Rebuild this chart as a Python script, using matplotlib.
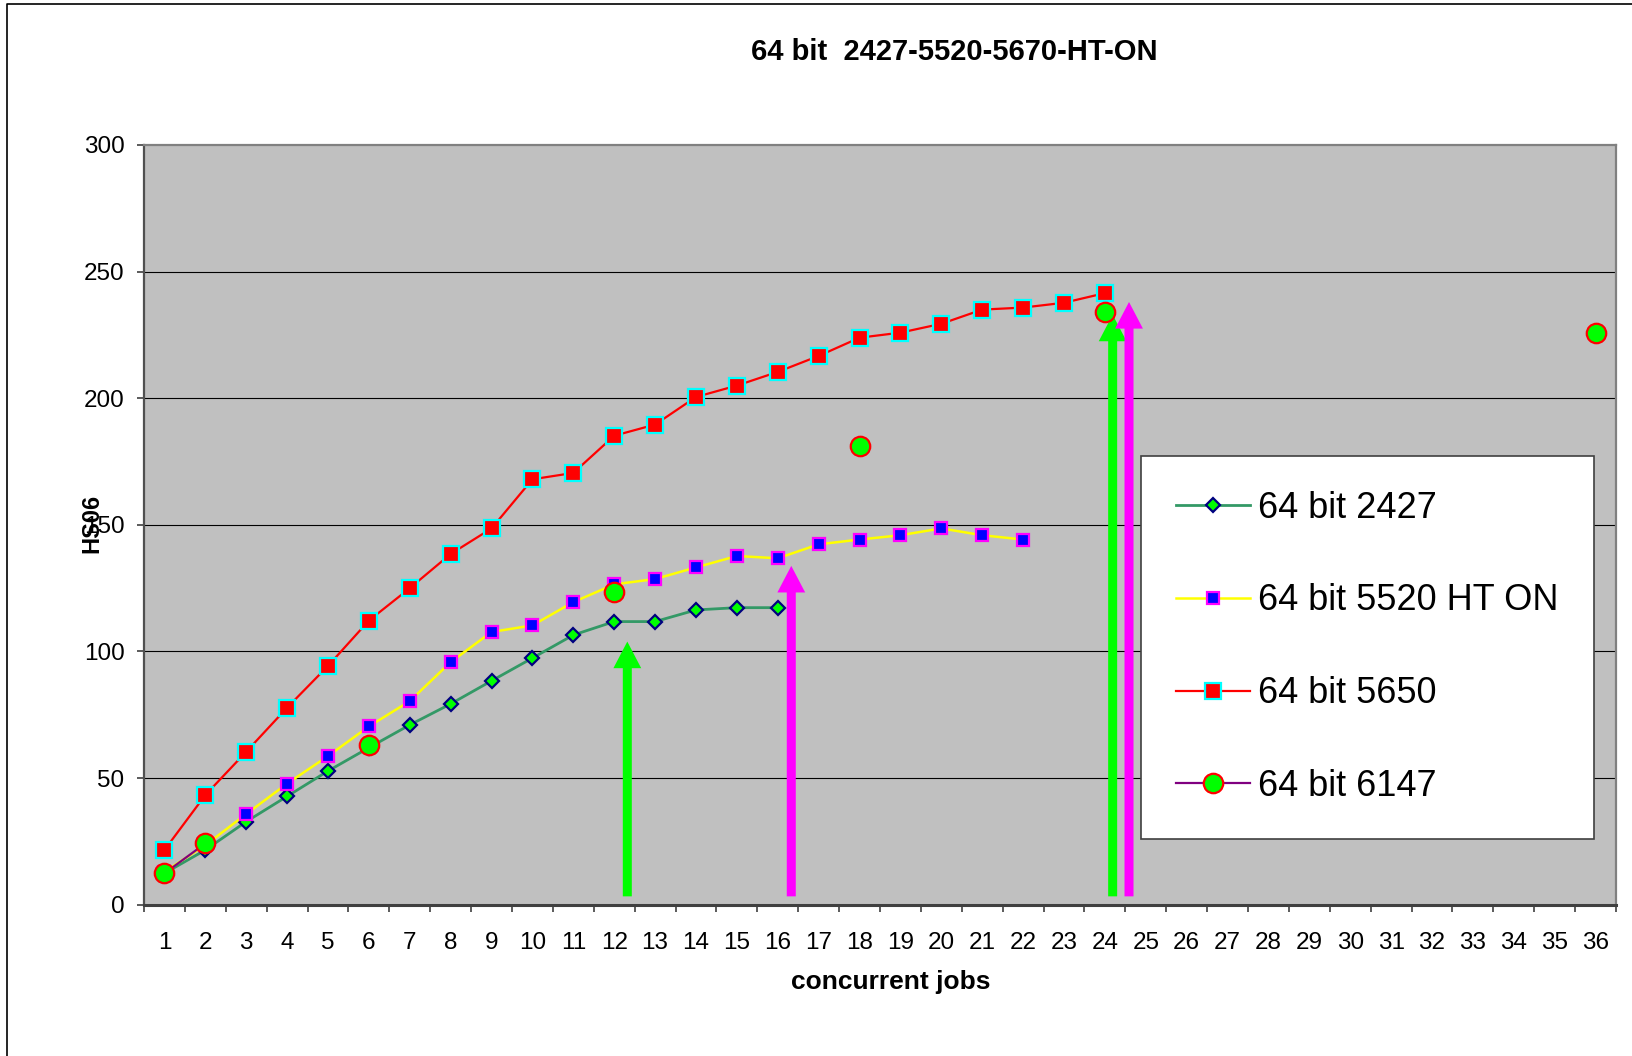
import numpy as np
import matplotlib
matplotlib.use("Agg")
import matplotlib.pyplot as plt
from matplotlib.lines import Line2D

plt.rcParams['font.family'] = ['Liberation Sans', 'DejaVu Sans']

# ---- data -------------------------------------------------------------
jobs = list(range(1, 37))
job_labels = [str(j) for j in jobs]

hs06_2427 = [12.4, 21.6, 32.8, 42.8, 52.8, 62.0, 71.0, 79.3, 88.4, 97.4,
             106.5, 111.8, 111.8, 116.4, 117.3, 117.3]
hs06_5520 = [13.0, 23.5, 35.8, 47.8, 58.7, 70.4, 80.4, 95.8, 107.7, 110.3,
             119.5, 126.5, 128.6, 133.2, 137.7, 136.8, 142.3, 144.2, 145.9,
             148.6, 145.9, 144.2]
hs06_5650 = [21.6, 43.3, 60.4, 77.8, 94.3, 112.2, 125.0, 138.5, 148.6, 168.0,
             170.5, 185.2, 189.6, 200.5, 205.0, 210.4, 216.7, 223.9, 225.9,
             229.4, 235.0, 235.8, 237.7, 241.5]
jobs_6147 = [1, 2, 6, 12, 18, 24, 36]
hs06_6147 = [12.4, 24.2, 63.1, 123.3, 181.3, 234.2, 225.9]

# saturation markers (job position, arrow tip value, colour)
arrow_jobs = [12.32, 16.33, 24.19, 24.59]
arrow_tips = [103.9, 133.8, 233.0, 238.0]
arrow_colors = ['#00FF00', '#FF00FF', '#00FF00', '#FF00FF']
arrow_start = 3.3

y_ticks = [0, 50, 100, 150, 200, 250, 300]

# 6147 was only measured at a few job counts; gaps break the line
series_6147 = np.full(len(jobs), np.nan)
for j, v in zip(jobs_6147, hs06_6147):
    series_6147[j - 1] = v

# ---- figure -----------------------------------------------------------
W, H = 1633, 1056
fig = plt.figure(figsize=(W / 100, H / 100), dpi=100)
fig.patch.set_facecolor('white')

ax_l, ax_r, ax_t, ax_b = 144, 1616, 145, 904.7
ax = fig.add_axes([ax_l / W, 1 - ax_b / H, (ax_r - ax_l) / W, (ax_b - ax_t) / H])
ax.set_facecolor('#C0C0C0')

# chart-area border (left and top edges)
fig.add_artist(Line2D([7 / W, 7 / W, 1.0], [0.0, 1 - 4 / H, 1 - 4 / H],
                      transform=fig.transFigure, color='black', lw=1.2))

for v in y_ticks[1:-1]:
    ax.axhline(v, color='black', lw=0.8, zorder=1)

for x, tip, c in zip(arrow_jobs, arrow_tips, arrow_colors):
    ax.arrow(x, arrow_start, 0, tip - arrow_start, width=0.22, head_width=0.68,
             head_length=10.5, length_includes_head=True, color=c, lw=0,
             zorder=2.5)

ax.plot(jobs[:len(hs06_2427)], hs06_2427, color='#339966', lw=2.0,
        marker='D', ms=6.8, mfc='#00FF00', mec='#000080', mew=1.6,
        label='64 bit 2427', zorder=3)
ax.plot(jobs[:len(hs06_5520)], hs06_5520, color='#FFFF00', lw=1.8,
        marker='s', ms=8.5, mfc='#0000FF', mec='#FF00FF', mew=1.6,
        label='64 bit 5520 HT ON', zorder=3.1)
ax.plot(jobs[:len(hs06_5650)], hs06_5650, color='#FF0000', lw=1.6,
        marker='s', ms=11, mfc='#FF0000', mec='#00FFFF', mew=1.6,
        label='64 bit 5650', zorder=3.2)
ax.plot(jobs, series_6147, color='#800080', lw=1.6,
        marker='o', ms=14, mfc='#00FF00', mec='#FF0000', mew=1.6,
        label='64 bit 6147', zorder=3.3)

ax.set_xlim(0.5, 36.5)
ax.set_ylim(0, 300)

ax.set_xticks(jobs)
ax.set_xticklabels(job_labels)
ax.set_xticks(np.arange(0.5, 37, 1.0), minor=True)
ax.tick_params(axis='x', which='major', length=0, pad=20, labelsize=17.5)
ax.tick_params(axis='x', which='minor', length=5, width=1.2,
               color='#404040', direction='out')
ax.set_yticks(y_ticks)
ax.tick_params(axis='y', which='major', length=5, width=1.2, color='#404040',
               direction='out', pad=9, labelsize=17.5)

for side, col, lw in [('left', '#505050', 1.6), ('bottom', '#404040', 2.2),
                      ('top', '#808080', 1.6), ('right', '#808080', 1.6)]:
    ax.spines[side].set_color(col)
    ax.spines[side].set_linewidth(lw)
    ax.spines[side].set_zorder(4)

fig.text(954 / W, 1 - 52 / H, '64 bit  2427-5520-5670-HT-ON', fontsize=21,
         fontweight='bold', ha='center', va='center')
ax.set_xlabel('concurrent jobs', fontsize=19, fontweight='bold', va='center')
ax.xaxis.set_label_coords((891 - ax_l) / (ax_r - ax_l), (ax_b - 982) / (ax_b - ax_t))
ax.set_ylabel('HS06', fontsize=17, fontweight='bold', va='center')
ax.yaxis.set_label_coords((92 - ax_l) / (ax_r - ax_l), (ax_b - 523) / (ax_b - ax_t))

lx0, lx1, ly0 = 1141, 1594, 456
leg = ax.legend(loc='upper left', mode='expand',
                bbox_to_anchor=(lx0 / W, 1 - ly0 / H, (lx1 - lx0) / W, 0.0),
                bbox_transform=fig.transFigure, fontsize=26, frameon=True,
                fancybox=False, framealpha=1, edgecolor='#404040',
                borderpad=0.96, labelspacing=1.6, handlelength=2.05,
                handletextpad=0.22, borderaxespad=0, numpoints=1)
leg.get_frame().set_linewidth(1.2)
leg.set_zorder(5)

fig.savefig('out.png', dpi=100)
